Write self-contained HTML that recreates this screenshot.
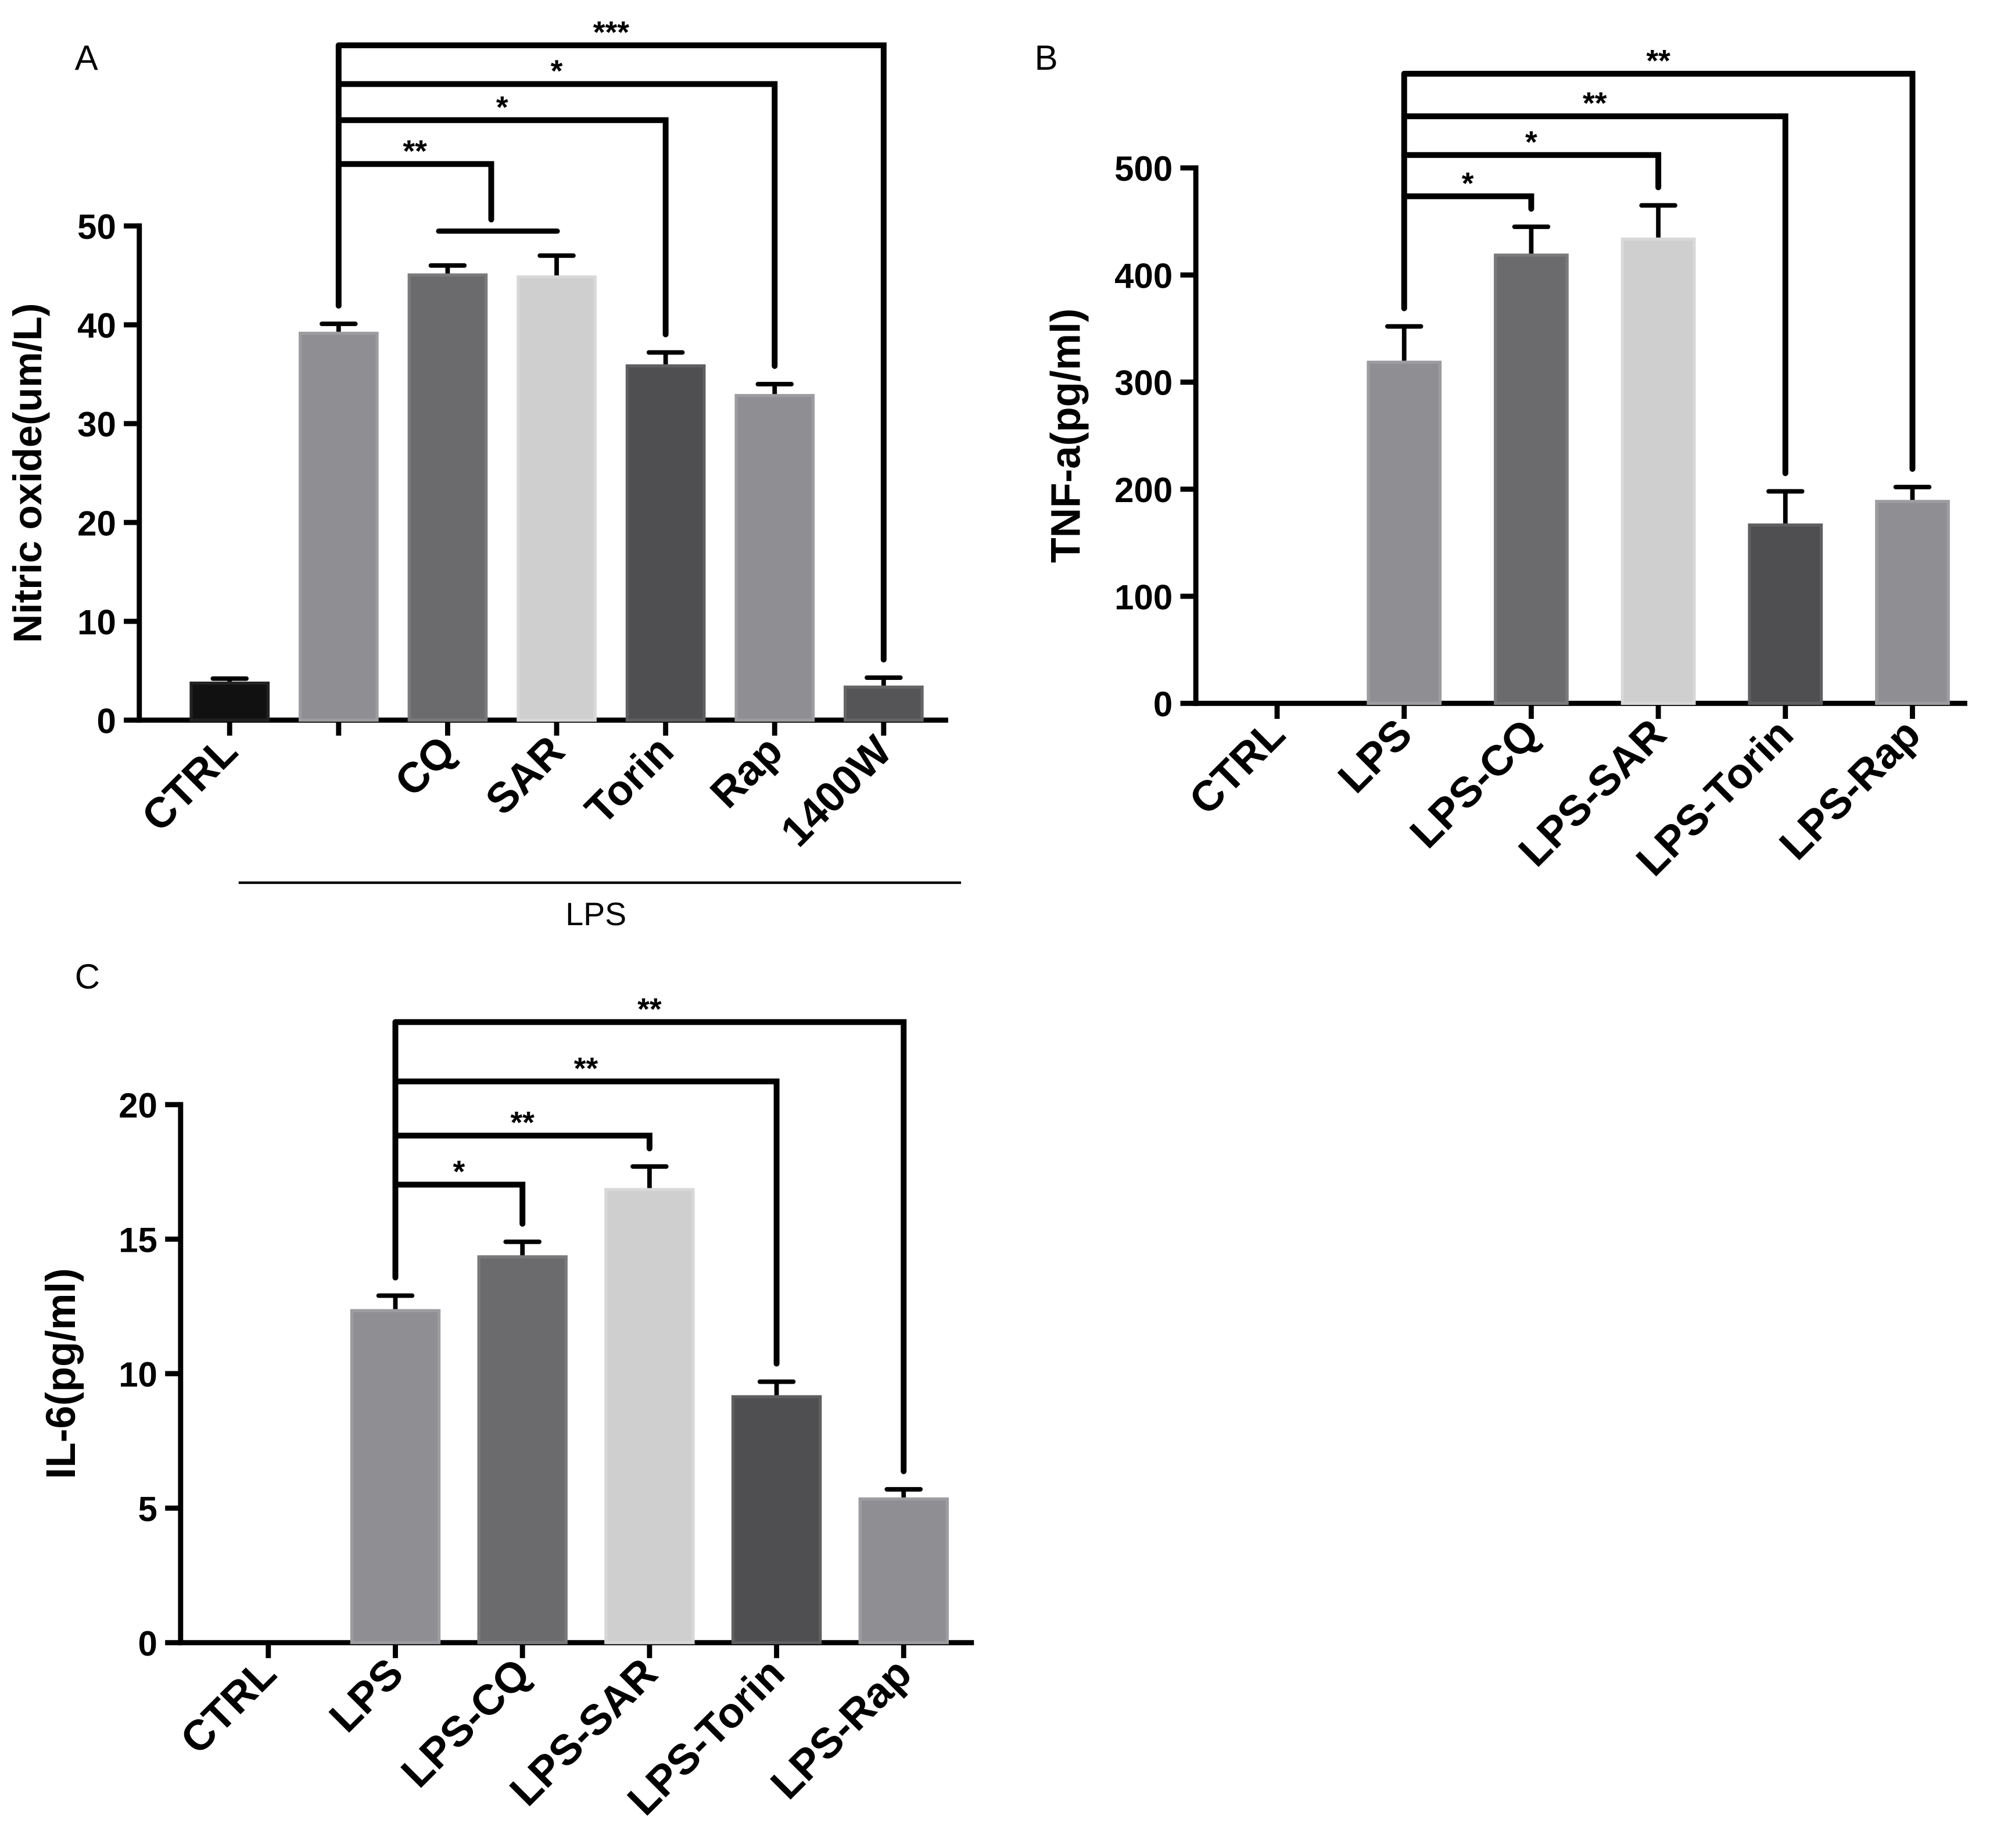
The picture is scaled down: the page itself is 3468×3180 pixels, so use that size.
<!DOCTYPE html>
<html><head><meta charset="utf-8"><style>
html,body{margin:0;padding:0;background:#fff}
svg{display:block}
text{font-family:"Liberation Sans",Arial,sans-serif}
</style></head><body>
<svg id="chart" width="3468" height="3180" viewBox="0 0 1562 1432" xmlns="http://www.w3.org/2000/svg">
<rect width="1562" height="1432" fill="#fff"/>
<text x="58" y="54" font-size="27">A</text>
<text x="802" y="54" font-size="27">B</text>
<text x="58" y="766" font-size="27">C</text>
<line x1="185" y1="684" x2="745" y2="684" stroke="#000" stroke-width="2"/>
<text x="462" y="717" font-size="25" text-anchor="middle">LPS</text>
<line x1="340" y1="179" x2="432" y2="179" stroke="#000" stroke-width="4" stroke-linecap="round"/>
</svg>
<script>
// Panel A
const aCats=["CTRL","","CQ","SAR","Torin","Rap","1400W"];
const aVals=[3.9,39.3,45.2,45.0,36.0,33.0,3.5];
const aErr=[0.3,0.8,0.8,2.0,1.2,1.0,0.8];
const aTicks=[0,10,20,30,40,50];
const aSig=[{to:6,y:35,s:"***"},{to:5,y:65,s:"*"},{to:4,y:93,s:"*"},{to:2.4,y:127,s:"**",end:170}];
// Panel B
const bCats=["CTRL","LPS","LPS-CQ","LPS-SAR","LPS-Torin","LPS-Rap"];
const bVals=[0,320,420,435,168,190];
const bErr=[0,32,25,30,30,12];
const bTicks=[0,100,200,300,400,500];
const bSig=[{to:5,y:57,s:"**"},{to:4,y:90,s:"**"},{to:3,y:120,s:"*"},{to:2,y:152,s:"*"}];
// Panel C
const cCats=["CTRL","LPS","LPS-CQ","LPS-SAR","LPS-Torin","LPS-Rap"];
const cVals=[0,12.4,14.4,16.9,9.2,5.4];
const cErr=[0,0.5,0.5,0.8,0.5,0.3];
const cTicks=[0,5,10,15,20];
const cSig=[{to:5,y:792,s:"**"},{to:4,y:838,s:"**"},{to:3,y:880,s:"**"},{to:2,y:918,s:"*"}];

const colors=["#111","#8e8e93","#6b6b6d","#cfcfd0","#4f4f51","#8e8e93","#555557"];
const edges=["#222","#9d9da1","#7a7a7c","#d8d8d9","#5f5f61","#9d9da1","#656567"];
const svg=document.getElementById('chart');
const NS="http://www.w3.org/2000/svg";
function mk(tag,at,parent){const e=document.createElementNS(NS,tag);for(const k in at)e.setAttribute(k,at[k]);(parent||svg).appendChild(e);return e;}

function panel(p){
  const g=mk('g',{});
  
  
  const y=v=>p.y0-(v-p.min)/(p.max-p.min)*(p.y0-p.y1);
  const x=i=>p.x0+i*p.step;
  const ya=mk('line',{x1:p.ax,y1:y(p.max)-2,x2:p.ax,y2:p.y0+2,stroke:'#000','stroke-width':4},g);
  
  const xa=mk('line',{x1:p.ax-2,y1:p.y0,x2:p.axEnd,y2:p.y0,stroke:'#000','stroke-width':4},g);
  
  p.ticks.forEach(t=>{
    const l=mk('line',{x1:p.ax-12,y1:y(t),x2:p.ax,y2:y(t),stroke:'#000','stroke-width':4},g);
    
    const tx=mk('text',{x:p.ax-18,y:y(t)+10,'font-size':27,'font-weight':'bold','text-anchor':'end'},g);
    tx.textContent=t;
    
  });
  const cy=(y(p.max)+p.y0)/2;
  const yl=mk('text',{x:p.ylx,y:cy,'font-size':p.ylfs,'font-weight':'bold','text-anchor':'middle',transform:`rotate(-90 ${p.ylx} ${cy})`},g);
  yl.textContent=p.ylabel;
  
  p.cats.forEach((c,i)=>{
    const cx=x(i);
    const tk=mk('line',{x1:cx,y1:p.y0,x2:cx,y2:p.y0+12,stroke:'#000','stroke-width':4},g);
    
    if(p.vals[i]>0){
      const top=y(p.vals[i]), et=y(p.vals[i]+p.err[i]);
      const b=mk('rect',{x:cx-p.bw/2+1.2,y:top+1.2,width:p.bw-2.4,height:p.y0-top-1.2,fill:colors[i],stroke:edges[i],'stroke-width':2.4},g);
      
      const e1=mk('line',{x1:cx,y1:top,x2:cx,y2:et,stroke:'#000','stroke-width':3.5},g);
      
      const e2=mk('line',{x1:cx-13,y1:et,x2:cx+13,y2:et,stroke:'#000','stroke-width':3.5,'stroke-linecap':'round'},g);
      
    }
    if(c){
      const lx=cx+8, ly=p.y0+26;
      const t=mk('text',{x:lx,y:ly,'font-size':33,'font-weight':'bold','text-anchor':'end',transform:`rotate(-45 ${lx} ${ly})`},g);
      t.textContent=c;
      
    }
  });
  const sx=x(1), stTop=y(p.vals[1]+p.err[1])-14;
  p.sig.forEach(s=>{
    const tx=x(s.to);
    const ti=Math.round(s.to);
    const end=s.end!==undefined?s.end:y(p.vals[ti]+p.err[ti])-14;
    const path=mk('path',{d:`M${sx} ${s.y} H${tx} V${end}`,fill:'none',stroke:'#000','stroke-width':4.5,'stroke-linecap':'round'},g);
    
    const st=mk('text',{x:(sx+tx)/2,y:s.y-2,'font-size':24,'font-weight':'bold','text-anchor':'middle'},g);
    st.textContent=s.s;
    
  });
  const top=Math.min(...p.sig.map(s=>s.y));
  const v=mk('path',{d:`M${sx} ${top} V${stTop}`,stroke:'#000','stroke-width':4.5,'stroke-linecap':'round'},g);
  
}
panel({name:'panel-a-nitric-oxide',cats:aCats,vals:aVals,err:aErr,ticks:aTicks,sig:aSig,min:0,max:50,y0:558,y1:175,ax:108,axEnd:735,x0:178,step:84.5,bw:62,ylabel:'Nitric oxide(um/L)',ylx:32,ylfs:31});
panel({name:'panel-b-tnf',cats:bCats,vals:bVals,err:bErr,ticks:bTicks,sig:bSig,min:0,max:500,y0:545,y1:130,ax:927,axEnd:1525,x0:990,step:98.5,bw:58,ylabel:'TNF-a(pg/ml)',ylx:837,ylfs:32});
panel({name:'panel-c-il6',cats:cCats,vals:cVals,err:cErr,ticks:cTicks,sig:cSig,min:0,max:20,y0:1273,y1:856,ax:140,axEnd:755,x0:208,step:98.5,bw:70,ylabel:'IL-6(pg/ml)',ylx:58,ylfs:32});
</script>
</body></html>
